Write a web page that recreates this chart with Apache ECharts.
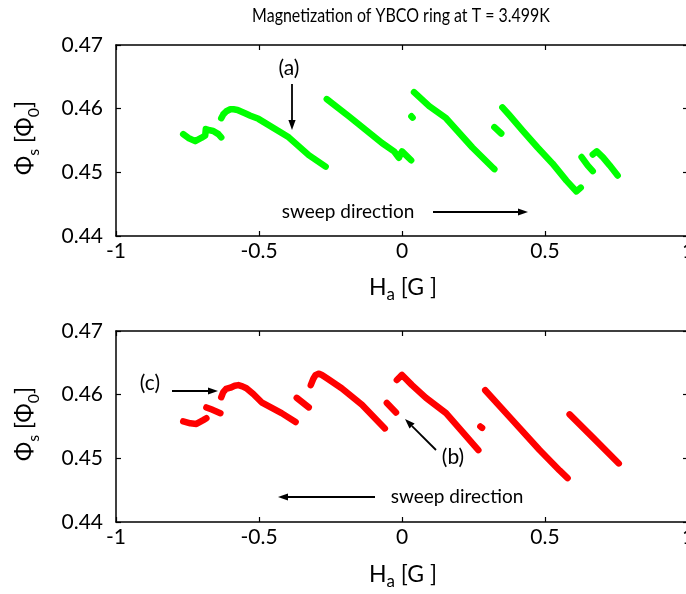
<!DOCTYPE html>
<html>
<head>
<meta charset="utf-8">
<script src="https://cdn.jsdelivr.net/npm/echarts@6/dist/echarts.min.js"></script>
<style>
html,body{margin:0;padding:0;background:#fff;}
#chart{width:686px;height:594px;}
</style>
</head>
<body>
<div id="chart"></div>
<script>
// ---------- data ----------
var xTicks = [-1, -0.5, 0, 0.5, 1];
var yTicks = [0.44, 0.45, 0.46, 0.47];

// top panel (green), null separates disconnected branches
var topH = [
  -0.765, -0.747, -0.723, -0.702, -0.688, -0.686, -0.672, -0.660, -0.642, -0.632, null,
  -0.632, -0.625, -0.614, -0.600, -0.589, -0.575, -0.565, -0.545, -0.530, -0.502, -0.396, -0.326, -0.267, null,
  -0.263, -0.186, -0.070, -0.028, -0.011, 0.000, 0.032, null,
  0.033, 0.037, null,
  0.042, 0.095, 0.154, 0.246, 0.316, 0.323, null,
  0.323, 0.347, null,
  0.351, 0.375, 0.421, 0.474, 0.526, 0.575, 0.610, 0.625, null,
  0.628, 0.649, 0.667, null,
  0.667, 0.681, 0.702, 0.726, 0.754
];
var topPhi = [
  0.4560, 0.4554, 0.4549, 0.4554, 0.4558, 0.4568, 0.4566, 0.4565, 0.4560, 0.4555, null,
  0.4585, 0.4591, 0.4596, 0.4599, 0.4599, 0.4598, 0.4596, 0.4592, 0.4589, 0.4584, 0.4555, 0.4527, 0.4509, null,
  0.4615, 0.4588, 0.4546, 0.4533, 0.4523, 0.4533, 0.4519, null,
  0.4588, 0.4586, null,
  0.4626, 0.4604, 0.4585, 0.4539, 0.4508, 0.4505, null,
  0.4571, 0.4561, null,
  0.4602, 0.4590, 0.4566, 0.4539, 0.4514, 0.4487, 0.4470, 0.4476, null,
  0.4524, 0.4511, 0.4502, null,
  0.4528, 0.4533, 0.4524, 0.4511, 0.4495
];

// bottom panel (red)
var botH = [
  -0.765, -0.740, -0.719, -0.695, -0.684, null,
  -0.684, -0.667, -0.635, null,
  -0.632, -0.625, -0.615, -0.600, -0.585, -0.572, -0.558, -0.544, -0.520, -0.491, -0.421, -0.372, null,
  -0.368, -0.326, null,
  -0.319, -0.310, -0.302, -0.290, -0.280, -0.260, -0.211, -0.140, -0.060, null,
  -0.053, -0.021, null,
  -0.018, 0.000, 0.035, 0.084, 0.154, 0.267, null,
  0.274, 0.280, null,
  0.291, 0.386, 0.481, 0.551, 0.579, null,
  0.586, 0.667, 0.758
];
var botPhi = [
  0.4558, 0.4555, 0.4554, 0.4560, 0.4563, null,
  0.4580, 0.4577, 0.4571, null,
  0.4596, 0.4604, 0.4609, 0.4611, 0.4614, 0.4615, 0.4613, 0.4610, 0.4601, 0.4588, 0.4571, 0.4557, null,
  0.4595, 0.4580, null,
  0.4615, 0.4625, 0.4631, 0.4633, 0.4631, 0.4625, 0.4610, 0.4584, 0.4547, null,
  0.4587, 0.4572, null,
  0.4623, 0.4631, 0.4615, 0.4595, 0.4571, 0.4513, null,
  0.4550, 0.4548, null,
  0.4607, 0.4560, 0.4513, 0.4481, 0.4469, null,
  0.4569, 0.4533, 0.4492
];

var titleText = 'Magnetization of YBCO ring at T = 3.499K';

// ---------- chart ----------
var FONT = 'Lato';
function pairs(h, p) {
  return h.map(function (v, i) { return v == null ? '-' : [v, p[i]]; });
}
function xAx(gi, pos) {
  return {
    type: 'value', gridIndex: gi, position: pos,
    min: xTicks[0], max: xTicks[xTicks.length - 1], interval: 0.5,
    axisLine: { show: true, onZero: false, lineStyle: { color: '#000', width: 1.5 } },
    axisTick: { show: true, inside: true, length: 5, lineStyle: { color: '#000', width: 1.2 } },
    splitLine: { show: false },
    axisLabel: pos === 'bottom' ? { show: true, color: '#000', fontSize: 21, fontFamily: FONT, margin: 5,
      hideOverlap: false, formatter: function (v) { return String(v); } } : { show: false }
  };
}
function yAx(gi, pos) {
  return {
    type: 'value', gridIndex: gi, position: pos,
    min: yTicks[0], max: yTicks[yTicks.length - 1], interval: 0.01,
    axisLine: { show: true, onZero: false, lineStyle: { color: '#000', width: 1.5 } },
    axisTick: { show: true, inside: true, length: 5, lineStyle: { color: '#000', width: 1.2 } },
    splitLine: { show: false },
    axisLabel: pos === 'left' ? { show: true, color: '#000', fontSize: 21, fontFamily: FONT, margin: 13,
      formatter: function (v) { return v.toFixed(2); } } : { show: false }
  };
}
function lineSeries(data, color, xi, yi) {
  return {
    type: 'line', data: data, xAxisIndex: xi, yAxisIndex: yi,
    showSymbol: false, symbol: 'none', connectNulls: false, silent: true,
    lineStyle: { color: color, width: 6.5, cap: 'round', join: 'round' }
  };
}

var chart = echarts.init(document.getElementById('chart'), null, { renderer: 'canvas' });

// helpers for annotation graphics
var ctx = document.createElement('canvas').getContext('2d');
function tw(t, size) { ctx.font = size + 'px ' + FONT; return ctx.measureText(t).width; }
function labelGroup(parts, cx, cy, rot) {
  var total = 0;
  parts.forEach(function (p) { total += tw(p.t, p.size); });
  var x = -total / 2, children = [];
  parts.forEach(function (p) {
    children.push({ type: 'text', x: x, y: (p.dy || 0),
      style: { text: p.t, font: p.size + 'px ' + FONT, fill: '#000', verticalAlign: 'middle' } });
    x += tw(p.t, p.size);
  });
  return { type: 'group', x: cx, y: cy, rotation: rot || 0, children: children };
}
function arrow(x1, y1, x2, y2) {
  var a = Math.atan2(y2 - y1, x2 - x1), L = 10, W = 3.6;
  var bx = x2 - L * Math.cos(a), by = y2 - L * Math.sin(a);
  return [
    { type: 'line', shape: { x1: x1, y1: y1, x2: bx, y2: by }, style: { stroke: '#000', lineWidth: 1.8 } },
    { type: 'polygon', shape: { points: [[x2, y2],
        [bx + W * Math.sin(a), by - W * Math.cos(a)],
        [bx - W * Math.sin(a), by + W * Math.cos(a)]] }, style: { fill: '#000' } }
  ];
}
function plainText(t, cx, cy, size, sx) {
  return { type: 'text', x: cx, y: cy, scaleX: sx || 1,
    style: { text: t, font: size + 'px ' + FONT, fill: '#000', align: 'center', verticalAlign: 'middle' } };
}

var graphics = [];
graphics.push(plainText(titleText, 401, 16, 19, 0.84));
// axis titles
var yLab = [{ t: 'Φ', size: 23 }, { t: 's', size: 16, dy: 9 }, { t: ' [Φ', size: 23 }, { t: '0', size: 16, dy: 9 }, { t: ']', size: 23 }];
var xLab = [{ t: 'H', size: 23 }, { t: 'a', size: 17, dy: 7 }, { t: ' [G ]', size: 23 }];
graphics.push(labelGroup(yLab, 25, 138, Math.PI / 2));
graphics.push(labelGroup(yLab, 25, 424, Math.PI / 2));
graphics.push(labelGroup(xLab, 403, 288, 0));
graphics.push(labelGroup(xLab, 403, 575, 0));
// annotations
graphics.push(plainText('(a)', 289, 68, 21));
graphics = graphics.concat(arrow(292, 84, 292, 130));
graphics.push(plainText('sweep direction', 348, 212, 19));
graphics = graphics.concat(arrow(433, 212, 528, 212));
graphics.push(plainText('sweep direction', 457, 497, 19));
graphics = graphics.concat(arrow(375, 497, 278, 497));
graphics.push(plainText('(c)', 150, 383, 21));
graphics = graphics.concat(arrow(172, 391, 218, 391));
graphics.push(plainText('(b)', 453, 457, 21));
graphics = graphics.concat(arrow(436, 450, 405, 419));

chart.setOption({
  animation: false,
  backgroundColor: '#fff',
  grid: [
    { left: 116, top: 45, width: 572, height: 191, outerBoundsMode: 'none', containLabel: false },
    { left: 116, top: 331, width: 572, height: 191, outerBoundsMode: 'none', containLabel: false }
  ],
  xAxis: [xAx(0, 'bottom'), xAx(0, 'top'), xAx(1, 'bottom'), xAx(1, 'top')],
  yAxis: [yAx(0, 'left'), yAx(0, 'right'), yAx(1, 'left'), yAx(1, 'right')],
  series: [
    lineSeries(pairs(topH, topPhi), '#00ff00', 0, 0),
    lineSeries(pairs(botH, botPhi), '#ff0000', 2, 2)
  ],
  graphic: graphics
});
</script>
</body>
</html>
